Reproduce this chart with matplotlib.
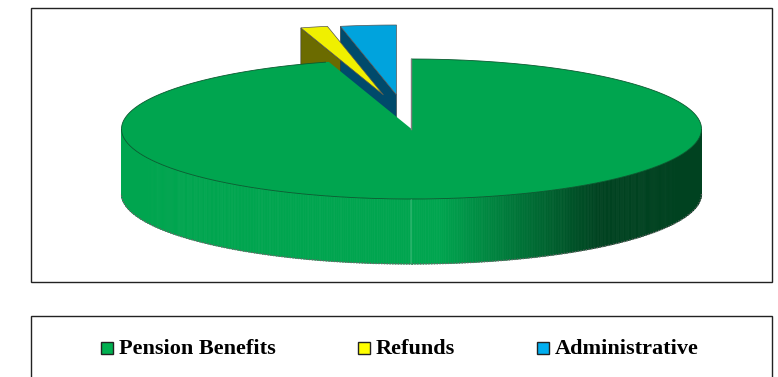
import numpy as np
import matplotlib
matplotlib.use('Agg')
import matplotlib.pyplot as plt
import matplotlib.patches as mpatches

plt.rcParams['font.family'] = ['Liberation Serif', 'DejaVu Serif']

# shares (percent)
labels = ['Pension Benefits', 'Refunds', 'Administrative']
shares = [95.4, 1.5, 3.1]
top_colors = ['#00A54F', '#F0F000', '#00A3DD']
wall_colors = ['#00A54F', '#6B6B00', '#004A6B']
legend_colors = ['#00B050', '#FFFF00', '#00AEEF']
legend_x = [101, 358, 537]

# pie geometry in pixels
cx, cy = 411.5, 129
rx, ry = 290, 70
depth = 65
explode = [(0, 0), (-28, -34), (-15, -34)]


def rim(a0, a1, n=200):
    # angles clockwise from 12 o'clock, degrees
    t = np.radians(np.linspace(a0, a1, n))
    return np.sin(t) * rx, -np.cos(t) * ry


def wall_shade(x):
    # light along the left of the front wall, dark towards the right
    f = np.clip((x - 440) / 160, 0, 1)
    c0 = np.array([0, 165, 79]) / 255
    c1 = np.array([0, 66, 32]) / 255
    return c0 + (c1 - c0) * f


fig = plt.figure(figsize=(7.78, 3.77), dpi=100)
ax = fig.add_axes([0, 0, 1, 1])
ax.set_xlim(0, 778)
ax.set_ylim(377, 0)
ax.axis('off')

# frames
ax.add_patch(mpatches.Rectangle((31, 8), 741, 274, fc='white', ec='#222222', lw=1))
ax.add_patch(mpatches.Rectangle((31, 316), 741, 70, fc='white', ec='#222222', lw=1, clip_on=True))

angles = np.cumsum([0] + shares) * 3.6

# small exploded wedges first, they sit behind the big one
for i in [1, 2]:
    ox, oy = cx + explode[i][0], cy + explode[i][1]
    xs, ys = rim(angles[i], angles[i + 1], 30)
    xs, ys = xs + ox, ys + oy
    # inner wall on the left cut
    ax.fill([xs[0], ox, ox, xs[0]], [ys[0], oy, oy + depth, ys[0] + depth],
            fc=wall_colors[i], ec='#333333', lw=0.4, zorder=2)
    ax.fill(np.r_[ox, xs], np.r_[oy, ys], fc=top_colors[i], ec='#555555', lw=0.5, zorder=3)

# front wall of the big slice
xs, ys = rim(90, 270, 500)
xs, ys = xs + cx, ys + cy
for j in range(len(xs) - 1):
    ax.fill([xs[j], xs[j + 1], xs[j + 1], xs[j]],
            [ys[j], ys[j + 1], ys[j + 1] + depth, ys[j] + depth],
            fc=wall_shade(xs[j]), ec=wall_shade(xs[j]), lw=0.5, zorder=4)
ax.plot(xs, ys + depth, color='#666666', lw=1, ls=(0, (1, 1)), zorder=5)

# top of the big slice
xs, ys = rim(angles[0], angles[1], 500)
xs, ys = xs + cx, ys + cy
ax.fill(np.r_[cx, xs], np.r_[cy, ys], fc=top_colors[0], ec='none', zorder=6)
ax.plot(xs[:-1], ys[:-1], color='#0B5A30', lw=0.6, zorder=7)
ax.plot([cx, cx], [cy, ys[0]], color='#808080', lw=1, zorder=7)

# legend
for name, col, x in zip(labels, legend_colors, legend_x):
    ax.add_patch(mpatches.Rectangle((x, 342), 12, 12, fc=col, ec='#222222', lw=1))
    ax.text(x + 18, 349.5, name, ha='left', va='center', fontsize=16,
            fontweight='bold', color='black')

fig.savefig('out.png', dpi=100)
